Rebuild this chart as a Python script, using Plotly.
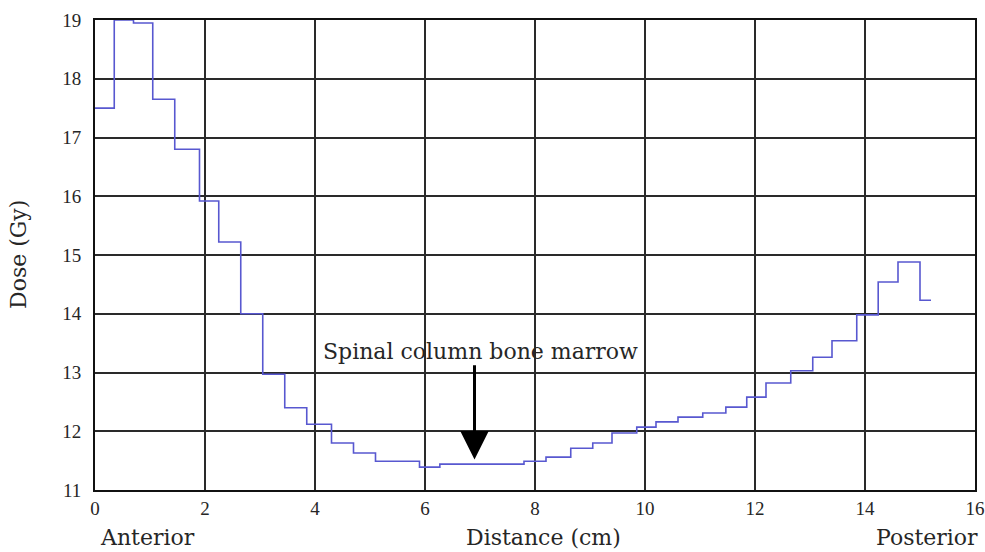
import plotly.graph_objects as go

# Step edges (cm) and dose values (Gy) for each step
edges = [0, 0.35, 0.7, 1.05, 1.45, 1.9, 2.25, 2.65, 3.05, 3.45, 3.85, 4.3, 4.7, 5.1,
         5.9, 6.27, 7.8, 8.2, 8.65, 9.05, 9.4, 9.85, 10.2, 10.6, 11.05, 11.47, 11.85,
         12.2, 12.65, 13.05, 13.4, 13.85, 14.24, 14.6, 15.0, 15.2]
dose = [17.5, 19.0, 18.95, 17.65, 16.8, 15.92, 15.22, 14.0, 12.97, 12.4, 12.12, 11.8,
        11.63, 11.49, 11.39, 11.44, 11.49, 11.56, 11.71, 11.8, 11.97, 12.07, 12.16,
        12.24, 12.31, 12.41, 12.58, 12.82, 13.03, 13.26, 13.54, 13.98, 14.54, 14.88, 14.23]

x_ticks = [0, 2, 4, 6, 8, 10, 12, 14, 16]
y_ticks = [11, 12, 13, 14, 15, 16, 17, 18, 19]

TICKFONT = "Liberation Serif"
LABFONT = "DejaVu Serif"
TXT = "#262626"

fig = go.Figure()
fig.add_trace(go.Scatter(
    x=edges, y=dose + [dose[-1]], mode="lines", line_shape="hv",
    line=dict(color="#5858d0", width=1.6), showlegend=False, hoverinfo="skip"))

axis_common = dict(showgrid=True, gridcolor="#2a2a2a", gridwidth=1.5, zeroline=False,
                   showline=True, linecolor="#111", linewidth=2, mirror=True,
                   automargin=False,
                   ticks="", tickfont=dict(family=TICKFONT, size=19, color=TXT))

fig.update_layout(
    width=985, height=552,
    margin=dict(l=95, r=10, t=20, b=62),
    paper_bgcolor="white", plot_bgcolor="white",
    xaxis=dict(range=[0, 16], tickvals=x_ticks, **axis_common),
    yaxis=dict(range=[11, 19], tickvals=y_ticks, ticklabelstandoff=8, **axis_common),
)

fig.add_annotation(x=6.9, y=11.52, ax=6.9, ay=13.15, xref="x", yref="y",
                   axref="x", ayref="y", text="", showarrow=True,
                   arrowhead=2, arrowsize=1.9, arrowwidth=3, arrowcolor="black")
fig.add_annotation(x=7.0, y=13.35, xref="x", yref="y", text="Spinal column bone marrow",
                   showarrow=False, font=dict(family=LABFONT, size=22, color=TXT))

lab = dict(family=LABFONT, size=22, color=TXT)
fig.add_annotation(x=0.003, y=-0.1, xref="paper", yref="paper", xanchor="left", yanchor="middle",
                   text="Anterior", showarrow=False, font=lab)
fig.add_annotation(x=0.51, y=-0.1, xref="paper", yref="paper", xanchor="center", yanchor="middle",
                   text="Distance (cm)", showarrow=False, font=lab)
fig.add_annotation(x=1.006, y=-0.1, xref="paper", yref="paper", xanchor="right", yanchor="middle",
                   text="Posterior", showarrow=False, font=lab)
fig.add_annotation(x=-0.0875, y=0.5, xref="paper", yref="paper", xanchor="center", yanchor="middle",
                   text="Dose (Gy)", textangle=-90, showarrow=False, font=lab)

fig.write_html("out.html")
